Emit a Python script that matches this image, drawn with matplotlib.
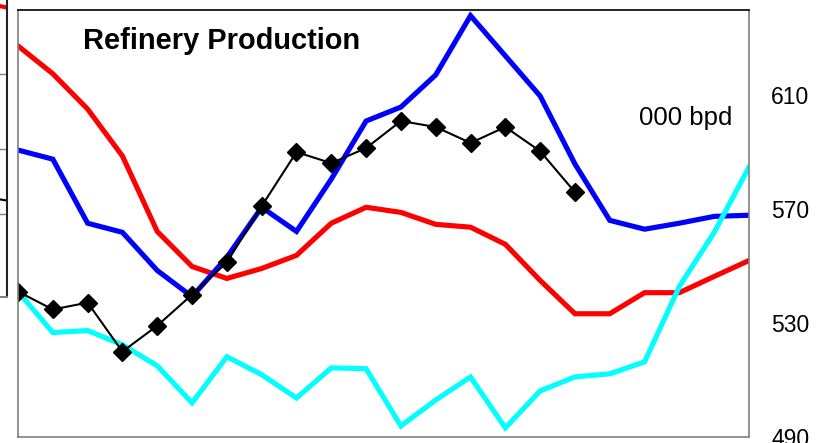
import matplotlib
matplotlib.use('Agg')
import matplotlib.pyplot as plt
import numpy as np

plt.rcParams['font.family'] = ['Liberation Sans', 'DejaVu Sans']

# ============================================================
# Data (000 bpd), 22 periods
# ============================================================
periods = np.arange(22)

red_series = [627.4, 617.6, 605.2, 588.7, 562.2, 549.9, 545.7, 549.2, 553.8, 565.1, 570.7,
              568.9, 564.7, 563.7, 557.7, 545.0, 533.3, 533.3, 540.7, 540.7, 546.4, 552.0]
blue_series = [590.8, 587.6, 565.1, 561.9, 548.5, 539.3, 553.1, 570.7, 562.2, 580.6, 601.0,
               605.9, 617.2, 638.0, 623.9, 609.8, 585.9, 566.1, 563.0, 565.1, 567.5, 567.9]
cyan_series = [541.1, 526.7, 527.4, 522.4, 515.0, 502.0, 518.2, 511.9, 503.7, 514.3, 514.0,
               493.9, 503.0, 511.1, 493.2, 506.2, 511.1, 512.2, 516.4, 542.9, 561.9, 584.8]
black_series = [541.1, 534.8, 537.2, 520.0, 529.1, 540.0, 551.3, 571.1, 590.1, 586.2, 591.5,
                601.0, 598.9, 593.3, 598.9, 590.4, 576.0,
                np.nan, np.nan, np.nan, np.nan, np.nan]

y_ticks = [490, 530, 570, 610]

# fragment of the neighbouring chart visible at the left edge
frag_x = [0, 1]
frag_red = [1.0, 0.975]
frag_black = [0.345, 0.325]
frag_grid = [0.75, 0.5, 0.28]

W, H = 824, 443
fig = plt.figure(figsize=(W / 100, H / 100), dpi=100)

# ------------------------------------------------------------
# left fragment
# ------------------------------------------------------------
fax = fig.add_axes([-30 / W, (H - 297) / H, 36.5 / W, 297 / H + 0.1])
fax.set_xlim(0, 1)
fax.set_ylim(0, 1 + 0.1 * H / 297)
for g in frag_grid:
    fax.axhline(g, color='#808080', linewidth=1)
fax.plot(frag_x, frag_red, color='red', linewidth=3)
fax.plot(frag_x, frag_black, color='black', linewidth=1.5)
fax.set_xticks([])
fax.set_yticks([])
for s in ['top', 'left']:
    fax.spines[s].set_visible(False)
fax.spines['right'].set_color('#222222')
fax.spines['right'].set_linewidth(1.5)
fax.spines['bottom'].set_color('#808080')
fax.spines['bottom'].set_linewidth(1.5)

# ------------------------------------------------------------
# main chart
# ------------------------------------------------------------
ax = fig.add_axes([18 / W, (H - 437) / H, (749 - 18) / W, (437 - 10) / H])

ax.plot(periods, red_series, color='#FF0000', linewidth=3.7, solid_joinstyle='miter')
ax.plot(periods, blue_series, color='#0000FF', linewidth=3.7, solid_joinstyle='miter')
ax.plot(periods, cyan_series, color='#00FFFF', linewidth=3.7, solid_joinstyle='miter')
ax.plot(periods, black_series, color='black', linewidth=1.5, marker='D', markersize=9.5)

ax.set_xlim(0, 21)
ax.set_ylim(490, 640)
ax.set_xticks([])
ax.yaxis.tick_right()
ax.set_yticks(y_ticks)
ax.tick_params(axis='y', length=0, pad=16, labelsize=16.5)

for s in ['left', 'right', 'bottom']:
    ax.spines[s].set_color('#808080')
    ax.spines[s].set_linewidth(1.2)
ax.spines['top'].set_color('black')
ax.spines['top'].set_linewidth(1.2)

ax.text((83 - 18) / 731, (437 - 49) / 427, 'Refinery Production', transform=ax.transAxes,
        fontsize=20.9, fontweight='bold', ha='left', va='baseline')
ax.text((732 - 18) / 731, (437 - 125) / 427, '000 bpd', transform=ax.transAxes,
        fontsize=18.5, ha='right', va='baseline')

plt.savefig('out.png', dpi=100)
plt.close()
